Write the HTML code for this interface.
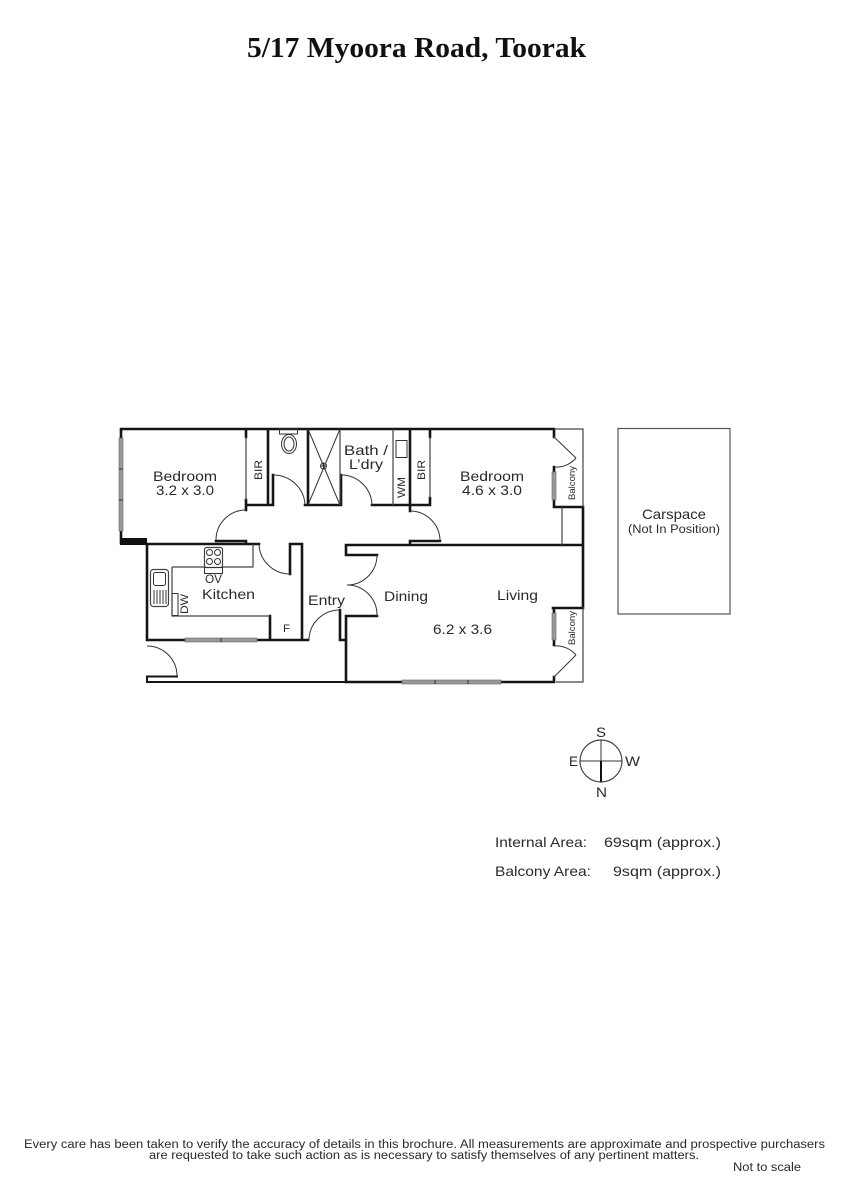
<!DOCTYPE html>
<html>
<head>
<meta charset="utf-8">
<style>
html,body{margin:0;padding:0;background:#fff}
svg{display:block}
text{font-family:"Liberation Sans",sans-serif;fill:#2a2a2a}
.t{font-family:"Liberation Serif",serif;font-weight:bold;fill:#111}
.w{stroke:#151515;stroke-width:2.6;fill:none;stroke-linecap:square}
.m{stroke:#444;stroke-width:1.2;fill:none}
.d{stroke:#333;stroke-width:1;fill:none}
.g{fill:#999;stroke:#666;stroke-width:.6}
</style>
</head>
<body>
<svg width="848" height="1200" viewBox="0 0 848 1200" xmlns="http://www.w3.org/2000/svg">
<rect width="848" height="1200" fill="#fff"/>
<text class="t" x="247" y="57" font-size="29" textLength="339" lengthAdjust="spacingAndGlyphs">5/17 Myoora Road, Toorak</text>

<!-- thick walls -->
<path class="w" d="M121 429H554M121 429V437M121 531V543M147 544V640M147 544H259M246 429V437M246 500V505H268M268 429V505H273V475M308 429V505H305M308 505H341V475M372 505H430V498M430 429V437M410 429V511M410 541V543M410 541H440M246 510V505M216 541H246V544M346 545H583M346 545V555H377M346 616H377M346 616V682M346 682H402M501 682H554M583 507V607M290 574V544H302V640M147 640H185M257 640H308M270 616V640M340 610V640H346M554 429V437M554 467V472M554 500V507H583M553 608H583M554 608V613M554 640V645M554 677V682"/>
<path class="w" d="M147 682H346M147 677V682M147 676.5H177" style="stroke-width:2"/>
<rect x="120" y="538" width="27" height="7" fill="#111"/>

<!-- thin lines -->
<path class="m" d="M246 437V500M430 437V498M393 429V505M562 507V545M554 437L576 458M576 655L554 677M172 567V616H270M172 567H204M222 567H253V544M340 429V505M554 429H583V507M583 607V682H556"/>

<!-- door arcs -->
<path class="d" d="M273 475A32 31 0 0 1 305 505M341 475A31 31 0 0 1 372 505M246 510A30 30 0 0 0 216 540M410 511A30 30 0 0 1 440 541M259 544A31 31 0 0 0 290 574M309 640A31 30 0 0 1 340 610M147 646A30 30 0 0 1 177 676M377 555A30 30 0 0 1 347 585M377 616A30 30 0 0 0 347 585M576 458A26 26 0 0 1 554 467M554 646A26 26 0 0 1 576 655"/>

<!-- windows -->
<rect class="g" x="119" y="438" width="4" height="93"/>
<path class="d" d="M119 469H123M119 500H123"/>
<rect class="g" x="552" y="472" width="4" height="28"/>
<rect class="g" x="552" y="613" width="4" height="27"/>
<rect class="g" x="185" y="638" width="72" height="4"/>
<path class="d" d="M221 638V642"/>
<rect class="g" x="402" y="680" width="99" height="4"/>
<path class="d" d="M435 680V684M468 680V684"/>

<!-- shower -->
<path class="d" d="M308 429L340 505M340 429L308 505"/>
<circle class="d" cx="323.500" cy="466" r="3"/>
<path class="d" d="M320.500 466H326.500M323.500 463V469"/>
<!-- toilet -->
<rect class="d" x="279.500" y="429" width="18" height="5"/>
<ellipse class="d" cx="289" cy="444" rx="7.500" ry="9.500"/>
<ellipse class="d" cx="289" cy="444" rx="5" ry="7"/>
<!-- WM box -->
<rect class="d" x="396" y="440.500" width="11" height="17"/>

<!-- kitchen -->
<rect class="m" x="204.500" y="547.500" width="18" height="20" rx="2"/>
<circle class="d" cx="209.500" cy="552.500" r="3"/><circle class="d" cx="217.500" cy="552.500" r="3"/>
<circle class="d" cx="209.500" cy="561.500" r="3"/><circle class="d" cx="217.500" cy="561.500" r="3"/>
<rect class="d" x="204.500" y="567.500" width="18" height="6"/>
<rect class="m" x="150.500" y="569.500" width="18" height="37" rx="3"/>
<rect class="d" x="153.500" y="572.500" width="12" height="13" rx="2"/>
<path class="d" d="M154 590V604M157 590V604M160 590V604M163 590V604M166 590V604"/>
<rect class="d" x="172" y="593.500" width="6" height="22"/>

<!-- compass -->
<circle class="m" cx="601" cy="761" r="21"/>
<path class="d" d="M580 761H622M601 740V761"/>
<path d="M601 761V782" stroke="#111" stroke-width="2" fill="none"/>
<text x="596" y="737" font-size="14" textLength="10" lengthAdjust="spacingAndGlyphs">S</text>
<text x="569" y="766" font-size="14" textLength="9" lengthAdjust="spacingAndGlyphs">E</text>
<text x="625" y="766" font-size="14" textLength="15" lengthAdjust="spacingAndGlyphs">W</text>
<text x="596" y="797" font-size="14" textLength="11" lengthAdjust="spacingAndGlyphs">N</text>

<!-- carspace -->
<rect x="618" y="428.500" width="112" height="185.500" fill="none" stroke="#555" stroke-width="1.200"/>

<!-- room labels -->
<g font-size="14">
<text x="153" y="481" textLength="64" lengthAdjust="spacingAndGlyphs">Bedroom</text>
<text x="156" y="495" textLength="58" lengthAdjust="spacingAndGlyphs">3.2 x 3.0</text>
<text x="344" y="455" textLength="44" lengthAdjust="spacingAndGlyphs">Bath /</text>
<text x="349" y="469" textLength="34" lengthAdjust="spacingAndGlyphs">L’dry</text>
<text x="460" y="481" textLength="64" lengthAdjust="spacingAndGlyphs">Bedroom</text>
<text x="462" y="495" textLength="60" lengthAdjust="spacingAndGlyphs">4.6 x 3.0</text>
<text x="202" y="599" textLength="53" lengthAdjust="spacingAndGlyphs">Kitchen</text>
<text x="308" y="605" textLength="37" lengthAdjust="spacingAndGlyphs">Entry</text>
<text x="384" y="601" textLength="44" lengthAdjust="spacingAndGlyphs">Dining</text>
<text x="497" y="600" textLength="41" lengthAdjust="spacingAndGlyphs">Living</text>
<text x="433" y="634" textLength="59" lengthAdjust="spacingAndGlyphs">6.2 x 3.6</text>
<text x="642" y="519" textLength="64" lengthAdjust="spacingAndGlyphs">Carspace</text>
</g>
<text x="628" y="533" font-size="11.500" textLength="92" lengthAdjust="spacingAndGlyphs">(Not In Position)</text>
<text x="205" y="583" font-size="12" textLength="17" lengthAdjust="spacingAndGlyphs">OV</text>
<text x="283" y="632" font-size="11" textLength="7" lengthAdjust="spacingAndGlyphs">F</text>
<text font-size="11" transform="translate(262,480) rotate(-90)" textLength="20" lengthAdjust="spacingAndGlyphs">BIR</text>
<text font-size="11" transform="translate(425,480) rotate(-90)" textLength="20" lengthAdjust="spacingAndGlyphs">BIR</text>
<text font-size="11" transform="translate(405,498) rotate(-90)" textLength="21" lengthAdjust="spacingAndGlyphs">WM</text>
<text font-size="11" transform="translate(188,614) rotate(-90)" textLength="20" lengthAdjust="spacingAndGlyphs">DW</text>
<text font-size="9" transform="translate(575,500) rotate(-90)" textLength="34" lengthAdjust="spacingAndGlyphs">Balcony</text>
<text font-size="9" transform="translate(575,645) rotate(-90)" textLength="34" lengthAdjust="spacingAndGlyphs">Balcony</text>

<!-- areas -->
<g font-size="14">
<text x="495" y="847" textLength="92" lengthAdjust="spacingAndGlyphs">Internal Area:</text>
<text x="604" y="847" textLength="117" lengthAdjust="spacingAndGlyphs">69sqm (approx.)</text>
<text x="495" y="876" textLength="96" lengthAdjust="spacingAndGlyphs">Balcony Area:</text>
<text x="613" y="876" textLength="108" lengthAdjust="spacingAndGlyphs">9sqm (approx.)</text>
</g>

<!-- footer -->
<g font-size="11.500">
<text x="24" y="1148" textLength="801" lengthAdjust="spacingAndGlyphs">Every care has been taken to verify the accuracy of details in this brochure.  All measurements are approximate and prospective purchasers</text>
<text x="149" y="1159" textLength="550" lengthAdjust="spacingAndGlyphs">are requested to take such action as is necessary to satisfy themselves of any pertinent matters.</text>
<text x="733" y="1171" textLength="68" lengthAdjust="spacingAndGlyphs">Not to scale</text>
</g>
</svg>
</body>
</html>
